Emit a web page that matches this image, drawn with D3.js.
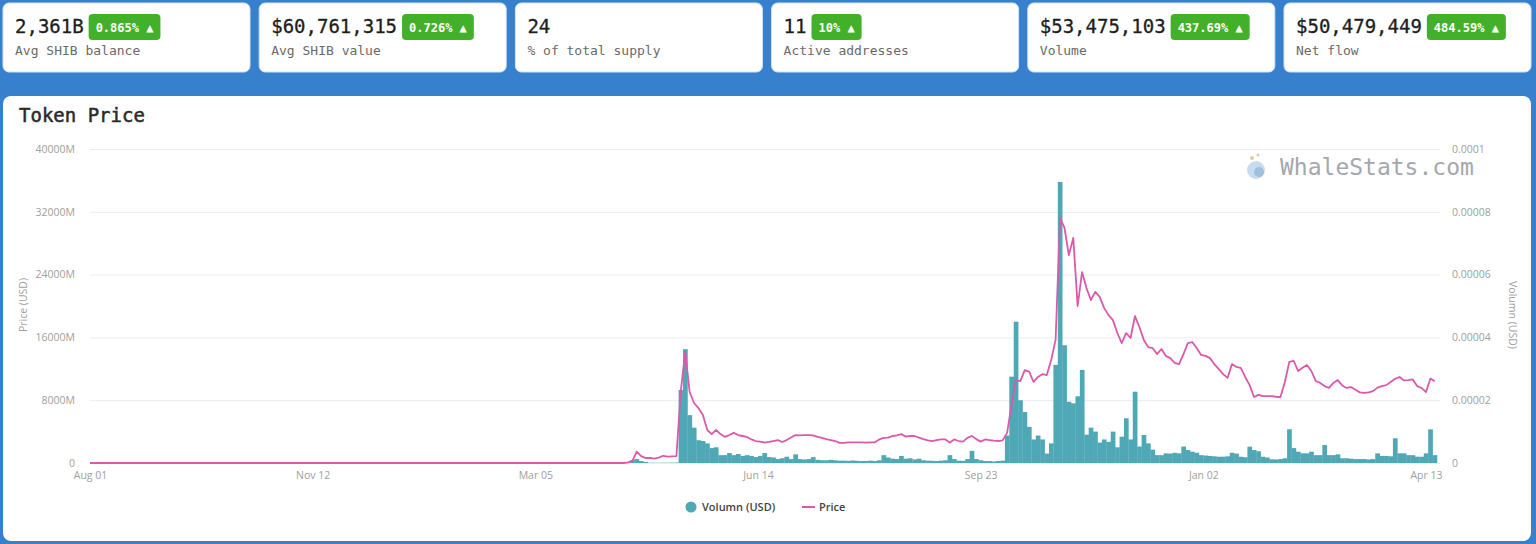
<!DOCTYPE html>
<html>
<head>
<meta charset="utf-8">
<script src="https://cdn.jsdelivr.net/npm/d3@7"></script>
<style>
  html, body { margin: 0; padding: 0; background: #3780cd; }
  svg { display: block; }
</style>
</head>
<body>
<div id="chart"></div>
<script>
// stat cards
const cardValues = ["2,361B", "$60,761,315", "24", "11", "$53,475,103", "$50,479,449"];
const cardLabels = ["Avg SHIB balance", "Avg SHIB value", "% of total supply", "Active addresses", "Volume", "Net flow"];
const cardChanges = ["0.865%", "0.726%", null, "10%", "437.69%", "484.59%"];

// x axis: one category per day, data kept every 2 days
const dayStep = 2;
const totalDays = 611;
const tickEvery = 101;
const xTickLabels = ["Aug 01", "Nov 12", "Mar 05", "Jun 14", "Sep 23", "Jan 02", "Apr 13"];

const volTicks = [0, 8000, 16000, 24000, 32000, 40000];
const volTickLabels = ["0", "8000M", "16000M", "24000M", "32000M", "40000M"];
// price kept in millionths of a USD
const priceTicks = [0, 20, 40, 60, 80, 100];
const priceTickLabels = ["0", "0.00002", "0.00004", "0.00006", "0.00008", "0.0001"];

// volume (millions USD)
const volume = [
  0,0,0,0,0,0,0,0,0,0, 0,0,0,0,0,0,0,0,0,0,
  0,0,0,0,0,0,0,0,0,0, 0,0,0,0,0,0,0,0,0,0,
  0,0,0,0,0,0,0,0,0,0, 0,0,0,0,0,0,0,0,0,0,
  0,0,0,0,0,0,0,0,0,0, 0,0,0,0,0,0,0,0,0,0,
  0,0,0,0,0,0,0,0,0,0, 0,0,0,0,0,0,0,0,0,0,
  0,0,0,0,0,0,0,0,0,0, 0,0,0,0,0,0,0,0,0,0,
  0, 0, 0, 380, 510, 250, 130, 40, 30, 30,
  40, 40, 50, 60, 9300, 14500, 6100, 4500, 2900, 2800,
  2500, 1900, 2000, 1000, 1000, 1270, 1000, 1150, 900, 1000,
  900, 760, 900, 1270, 760, 700, 500, 600, 800, 500,
  1100, 500, 450, 500, 750, 400, 350, 350, 400, 350,
  300, 300, 280, 320, 280, 250, 250, 300, 250, 350,
  1000, 700, 550, 500, 900, 550, 600, 450, 550, 350,
  300, 280, 250, 300, 350, 1000, 500, 300, 280, 500,
  1550, 500, 350, 250, 250, 200, 250, 300, 3500, 11000,
  18000, 8000, 6500, 4600, 3000, 3500, 3000, 1200, 2500, 12500,
  35800, 15000, 7800, 7600, 8500, 11850, 3600, 4500, 4000, 2600,
  3000, 2700, 4000, 2000, 3350, 5700, 3000, 9080, 2100, 3570,
  2500, 1700, 1000, 1000, 1230, 1200, 1300, 1230, 2100, 1650,
  1440, 1300, 1000, 950, 900, 850, 800, 800, 850, 1300,
  1200, 800, 730, 2080, 1650, 1500, 800, 700, 470, 450,
  500, 600, 4300, 1900, 1440, 1230, 1230, 1440, 1000, 1000,
  2300, 1000, 1000, 1100, 600, 600, 550, 500, 500, 500,
  450, 500, 1230, 900, 900, 850, 3150, 1230, 1230, 1000,
  1000, 800, 800, 1230, 4290, 1000
];

// price (1e-6 USD)
const price = [
  0,0,0,0,0,0,0,0,0,0, 0,0,0,0,0,0,0,0,0,0,
  0,0,0,0,0,0,0,0,0,0, 0,0,0,0,0,0,0,0,0,0,
  0,0,0,0,0,0,0,0,0,0, 0,0,0,0,0,0,0,0,0,0,
  0,0,0,0,0,0,0,0,0,0, 0,0,0,0,0,0,0,0,0,0,
  0,0,0,0,0,0,0,0,0,0, 0,0,0,0,0,0,0,0,0,0,
  0,0,0,0,0,0,0,0,0,0, 0,0,0,0,0,0,0,0,0,0,
  0, 0, 0.2, 0.6, 3.6, 2.2, 1.6, 1.6, 1.4, 1.7,
  2.3, 2.0, 2.1, 2.2, 23, 35.4, 22.6, 19.1, 17.5, 15.3,
  10.5, 9.2, 10.5, 9.2, 8.3, 8.9, 9.6, 8.9, 8.6, 8.3,
  7.5, 7.0, 6.8, 6.5, 6.7, 7.0, 7.3, 6.7, 7.3, 8.1,
  8.9, 8.8, 8.9, 8.9, 8.8, 8.3, 8.0, 7.6, 7.3, 7.0,
  6.4, 6.4, 6.6, 6.6, 6.6, 6.6, 6.5, 6.6, 6.6, 7.5,
  8.0, 8.1, 8.6, 8.8, 9.2, 8.4, 8.6, 8.6, 8.1, 7.6,
  7.2, 7.0, 7.3, 7.5, 7.5, 6.5, 7.5, 7.0, 6.8, 8.0,
  8.6, 7.6, 6.8, 7.5, 7.3, 7.1, 7.0, 7.2, 9.6, 18.5,
  26.4, 26.1, 29.6, 29.1, 25.8, 27.4, 28.3, 28.0, 32.8, 39.2,
  78.0, 75.0, 66.2, 71.7, 50.0, 60.8, 55.7, 51.9, 54.5, 52.9,
  49.4, 47.1, 45.5, 41.4, 38.2, 41.4, 39.8, 46.8, 43.3, 39.2,
  36.9, 36.6, 34.7, 36.3, 34.1, 33.4, 31.9, 31.5, 34.7, 38.2,
  38.5, 36.6, 34.4, 34.1, 33.4, 31.5, 29.9, 28.3, 27.1, 31.5,
  30.6, 30.3, 27.4, 24.8, 21.0, 21.7, 21.3, 21.3, 21.3, 21.1,
  21.0, 25.8, 32.2, 32.5, 29.3, 30.3, 31.2, 29.3, 26.1, 25.5,
  24.5, 23.9, 25.5, 26.4, 24.7, 23.9, 24.2, 23.3, 22.5, 22.3,
  22.5, 22.9, 24.0, 24.5, 24.8, 25.8, 26.8, 27.4, 26.3, 26.4,
  26.6, 24.5, 23.9, 22.6, 26.9, 26.0
];

const W = 1536, H = 544;
const barColor = "#4fa8b5";
const lineColor = "#d95aab";
const mono = "'DejaVu Sans Mono', monospace";
const sans = "'Open Sans', 'Noto Sans', sans-serif";

const svg = d3.select("#chart").append("svg")
  .attr("width", W)
  .attr("height", H);

// ---- stat cards ----
const cardW = 247, cardStep = 256.2;
cardValues.forEach((v, i) => {
  const g = svg.append("g").attr("transform", `translate(${3 + i * cardStep},3)`);
  g.append("rect")
    .attr("width", cardW).attr("height", 69)
    .attr("rx", 6)
    .attr("fill", "#fff")
    .attr("stroke", "#d6e3f1");

  const val = g.append("text")
    .attr("x", 12).attr("y", 30)
    .attr("font-family", mono)
    .attr("font-size", 19)
    .attr("fill", "#1d1d1d")
    .attr("stroke", "#1d1d1d")
    .attr("stroke-width", 0.3)
    .text(v);

  g.append("text")
    .attr("x", 12).attr("y", 52)
    .attr("font-family", mono)
    .attr("font-size", 13)
    .attr("fill", "#6a6a6a")
    .text(cardLabels[i]);

  if (cardChanges[i]) {
    const bx = 12 + val.node().getComputedTextLength() + 5;
    const badge = g.append("g").attr("transform", `translate(${bx},11)`);
    const r = badge.append("rect")
      .attr("height", 26).attr("rx", 4)
      .attr("fill", "#43b02a");
    const t = badge.append("text")
      .attr("x", 7).attr("y", 17.5)
      .attr("font-family", mono)
      .attr("font-size", 12)
      .attr("font-weight", "bold")
      .attr("fill", "#fff")
      .text(cardChanges[i] + " \u25B2");
    r.attr("width", t.node().getComputedTextLength() + 14);
  }
});

// ---- chart card ----
svg.append("rect")
  .attr("x", 3).attr("y", 96)
  .attr("width", 1528).attr("height", 445)
  .attr("rx", 8)
  .attr("fill", "#fff");

svg.append("text")
  .attr("x", 19).attr("y", 122)
  .attr("font-family", mono)
  .attr("font-size", 19)
  .attr("fill", "#2a2a2a")
  .attr("stroke", "#2a2a2a")
  .attr("stroke-width", 0.5)
  .text("Token Price");

const plotLeft = 90, gridRight = 1440, plotRight = 1437;
const plotTop = 149, plotBottom = 463;

const x = d3.scaleLinear().domain([0, totalDays]).range([plotLeft, plotRight]);
const yVol = d3.scaleLinear().domain([0, 40000]).range([plotBottom, plotTop]);
const yPrice = d3.scaleLinear().domain([0, 100]).range([plotBottom, plotTop]);

// grid
svg.append("g")
  .attr("transform", `translate(${plotLeft},0)`)
  .call(d3.axisLeft(yVol).tickValues(volTicks).tickSize(-(gridRight - plotLeft)).tickFormat(""))
  .call(g => g.select(".domain").remove())
  .call(g => g.selectAll("line").attr("stroke", "#ececec"));

// watermark
const wm = svg.append("g").attr("transform", "translate(1256,168)");
wm.append("circle").attr("cx", 0).attr("cy", 2).attr("r", 9).attr("fill", "#c9dcef");
wm.append("circle").attr("cx", 3).attr("cy", 4).attr("r", 5).attr("fill", "#9dbfe0");
wm.append("circle").attr("cx", -4).attr("cy", -10).attr("r", 2).attr("fill", "#e6c9a8");
wm.append("circle").attr("cx", 2).attr("cy", -13).attr("r", 1.6).attr("fill", "#e6c9a8");
wm.append("text")
  .attr("x", 24).attr("y", 7)
  .attr("font-family", mono)
  .attr("font-size", 23)
  .attr("fill", "#a4a7ab")
  .text("WhaleStats.com");

// volume bars
const bw = x(dayStep) - x(0);
svg.append("g")
  .selectAll("rect")
  .data(volume)
  .join("rect")
  .attr("x", (d, i) => x(i * dayStep) - bw / 2)
  .attr("y", d => yVol(d))
  .attr("width", bw + 0.3)
  .attr("height", d => plotBottom - yVol(d))
  .attr("fill", barColor);

// price line
const line = d3.line()
  .x((d, i) => x(i * dayStep))
  .y(d => yPrice(d));

svg.append("path")
  .datum(price)
  .attr("d", line)
  .attr("fill", "none")
  .attr("stroke", lineColor)
  .attr("stroke-width", 1.8)
  .attr("stroke-linejoin", "round");

// axes
function styleAxis(g) {
  g.select(".domain").remove();
  g.selectAll("text")
    .attr("font-family", sans)
    .attr("font-size", 10.5)
    .attr("fill", "#a0a0a0");
}

svg.append("g")
  .attr("transform", `translate(${plotLeft},0)`)
  .call(d3.axisLeft(yVol).tickValues(volTicks).tickSize(0).tickPadding(15)
    .tickFormat((d, i) => volTickLabels[i]))
  .call(styleAxis);

svg.append("g")
  .attr("transform", `translate(${gridRight},0)`)
  .call(d3.axisRight(yPrice).tickValues(priceTicks).tickSize(0).tickPadding(12)
    .tickFormat((d, i) => priceTickLabels[i]))
  .call(styleAxis);

svg.append("g")
  .attr("transform", `translate(0,${plotBottom})`)
  .call(d3.axisBottom(x).tickValues(xTickLabels.map((d, i) => i * tickEvery)).tickSize(0).tickPadding(9)
    .tickFormat((d, i) => xTickLabels[i]))
  .call(styleAxis);

// axis titles
svg.append("text")
  .attr("transform", "translate(27,305) rotate(-90)")
  .attr("text-anchor", "middle")
  .attr("font-family", sans)
  .attr("font-size", 10.5)
  .attr("fill", "#a0a0a0")
  .text("Price (USD)");

svg.append("text")
  .attr("transform", "translate(1509,315) rotate(90)")
  .attr("text-anchor", "middle")
  .attr("font-family", sans)
  .attr("font-size", 10.5)
  .attr("fill", "#a0a0a0")
  .text("Volumn (USD)");

// legend
const legend = svg.append("g").attr("transform", "translate(0,507)");
legend.append("circle").attr("cx", 691).attr("cy", 0).attr("r", 5.5).attr("fill", barColor);
legend.append("text")
  .attr("x", 702).attr("y", 4)
  .attr("font-family", sans)
  .attr("font-size", 11)
  .attr("font-weight", 600)
  .attr("fill", "#444")
  .text("Volumn (USD)");
legend.append("line")
  .attr("x1", 802).attr("x2", 815)
  .attr("stroke", lineColor).attr("stroke-width", 2);
legend.append("text")
  .attr("x", 819).attr("y", 4)
  .attr("font-family", sans)
  .attr("font-size", 11)
  .attr("font-weight", 600)
  .attr("fill", "#444")
  .text("Price");
</script>
</body>
</html>
